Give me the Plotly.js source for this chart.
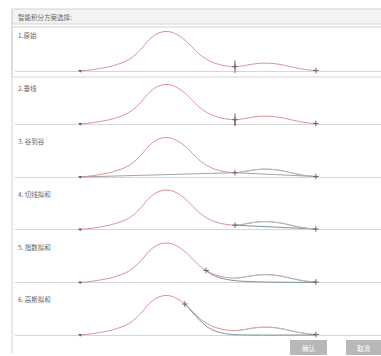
<!DOCTYPE html>
<html>
<head>
<meta charset="utf-8">
<script src="https://cdn.plot.ly/plotly-3.0.1.min.js"></script>
<style>html,body{margin:0;padding:0;background:#fff;}#chart{width:381px;height:356px;}</style>
</head>
<body>
<div id="chart"></div>
<script>
// ---- data (time in min, signal in mV) ----
const time   = [1.78,2.05,2.32,2.60,2.87,3.09,3.28,3.47,3.63,3.80,3.96,4.10,4.26,4.45,4.64,4.84,5.03,5.22,5.41,5.63,5.82,6.01,6.23,6.48,6.75,7.02,7.30,7.57,7.84,8.06,8.22];
const signal = [0,1,2.5,4.5,7.5,11,16,23,30,35.5,38.5,39.5,39,36,31,24,17,12,8.5,6,4.8,4.3,5.2,6.8,7.8,7.6,6.2,4,2,0.9,0.5];
const panelLabels = ["1.原始","2.垂线","3. 谷到谷","4. 切线拟和","5. 指数拟和","6. 高斯拟和"];
const titleText = "智能积分方案选择:";
const buttonLabels = ["确认","取消"];
// integration events
const startPt = {t:[1.78], y:[0]};
const valleyPt = {t:[6.01], y:[4.3]};
const endPt = {t:[8.22], y:[0.5]};
// perpendicular drop
const dropT = [6.01,6.01];
const dropY = [-1.5,4.3];
// valley to valley baseline
const vvT = [1.78,6.01,8.22];
const vvY = [0,4.3,0.5];
// tangent skim
const tanT = [6.01,8.22];
const tanY = [4.3,0.5];
// exponential skim
const expT = [5.22,5.35,5.55,5.75,5.95,6.15,6.5,7.0,7.6,8.22];
const expY = [12,8.5,5.3,3.3,2.1,1.4,0.8,0.4,0.2,0.1];
// gaussian skim
const gauT = [4.64,4.84,5.03,5.22,5.41,5.63,5.82,6.01,6.5,8.22];
const gauY = [31,23,15.5,9,4.8,2.2,0.9,0.3,0,0];

const W=381,H=356;
const PX = x=>x/W, PY = y=>1-y/H;
const baselinesPx=[71,124,177,229.5,282.5,335];
const red='#d98383', gray='#999999', slate='#6a8896', mk='#666';

const traces=[];
const layout={
  width:W,height:H,margin:{l:0,r:0,t:0,b:0},
  paper_bgcolor:'#fff',plot_bgcolor:'rgba(0,0,0,0)',
  showlegend:false,
  font:{family:'"Noto Sans CJK SC", "Noto Sans", sans-serif',size:7,color:'#555'},
  xaxis:{domain:[15/W,1],range:[0,10],visible:false,fixedrange:true},
  shapes:[],annotations:[]
};
baselinesPx.forEach((yb,i)=>{
  const key = i===0?'yaxis':'yaxis'+(i+1);
  layout[key]={domain:[PY(yb+4),PY(yb-44)],range:[-4,44],anchor:'x',
    showgrid:false,showticklabels:false,ticks:'',showline:false,
    zeroline:true,zerolinecolor:'#d6d6d6',zerolinewidth:1,fixedrange:true};
});
const ya = i=> i===0?'y':'y'+(i+1);
function add(i,x,y,opt){traces.push(Object.assign({x:x,y:y,xaxis:'x',yaxis:ya(i),type:'scatter',hoverinfo:'skip'},opt));}

for(let i=0;i<6;i++){
  if(i===1) add(i,dropT,dropY,{mode:'lines',line:{color:mk,width:1}});
  if(i===2) add(i,vvT,vvY,{mode:'lines',line:{color:gray,width:0.9}});
  if(i===3) add(i,tanT,tanY,{mode:'lines',line:{color:slate,width:0.9}});
  add(i,time,signal,{mode:'lines',line:{color:red,width:0.9,shape:'spline',smoothing:0.8}});
  if(i>=2) add(i,time.slice(21),signal.slice(21),{mode:'lines',line:{color:'#a9bcc6',width:0.9,shape:'spline'}});
  if(i===4) add(i,expT,expY,{mode:'lines',line:{color:slate,width:0.9,shape:'spline'}});
  if(i===5) add(i,gauT,gauY,{mode:'lines',line:{color:slate,width:0.9,shape:'spline'}});
  add(i,startPt.t,startPt.y,{mode:'markers',marker:{symbol:'triangle-down',size:3.5,color:mk}});
  if(i<2) add(i,valleyPt.t,valleyPt.y,{mode:'markers',marker:{symbol:'line-ns',size:9,line:{color:mk,width:1}}});
  if(i<4) add(i,valleyPt.t,valleyPt.y,{mode:'markers',marker:{symbol:'cross-thin',size:4,line:{color:mk,width:1}}});
  if(i===4) add(i,[expT[0]],[expY[0]],{mode:'markers',marker:{symbol:'cross-thin',size:4,line:{color:mk,width:1}}});
  if(i===5) add(i,[gauT[0]],[gauY[0]],{mode:'markers',marker:{symbol:'cross-thin',size:4,line:{color:mk,width:1}}});
  add(i,endPt.t,endPt.y,{mode:'markers',marker:{symbol:'cross-thin',size:4,line:{color:mk,width:1}}});
  layout.annotations.push({text:panelLabels[i],xref:'paper',yref:'paper',x:PX(16),y:PY(baselinesPx[i]-36),
    xanchor:'left',yanchor:'middle',showarrow:false,font:{size:6.5,color:'#666'}});
}
const S=layout.shapes;
S.push({type:'rect',xref:'paper',yref:'paper',x0:PX(12),x1:PX(390),y0:PY(24),y1:PY(9),fillcolor:'#f3f3f3',line:{color:'#d3d3d3',width:1},layer:'below'});
S.push({type:'rect',xref:'paper',yref:'paper',x0:PX(12),x1:PX(390),y0:PY(77),y1:PY(27),fillcolor:'rgba(0,0,0,0)',line:{color:'#d3d3d3',width:1},layer:'below'});
S.push({type:'line',xref:'paper',yref:'paper',x0:PX(12),x1:PX(12),y0:PY(9),y1:PY(353),line:{color:'#d3d3d3',width:1}});
layout.annotations.push({text:titleText,xref:'paper',yref:'paper',x:PX(16),y:PY(17),xanchor:'left',yanchor:'middle',showarrow:false,font:{size:6.5,color:'#666'}});
const btn=[[290,327],[346,381]];
btn.forEach((b,k)=>{
  S.push({type:'rect',xref:'paper',yref:'paper',x0:PX(b[0]),x1:PX(b[1]),y0:PY(355),y1:PY(340),fillcolor:'#b8b8b8',line:{width:0}});
  layout.annotations.push({text:buttonLabels[k],xref:'paper',yref:'paper',x:PX((b[0]+b[1])/2),y:PY(347.5),xanchor:'center',yanchor:'middle',showarrow:false,font:{size:6.5,color:'#fff'}});
});
Plotly.newPlot('chart',traces,layout,{staticPlot:true,displayModeBar:false});
</script>
</body>
</html>
